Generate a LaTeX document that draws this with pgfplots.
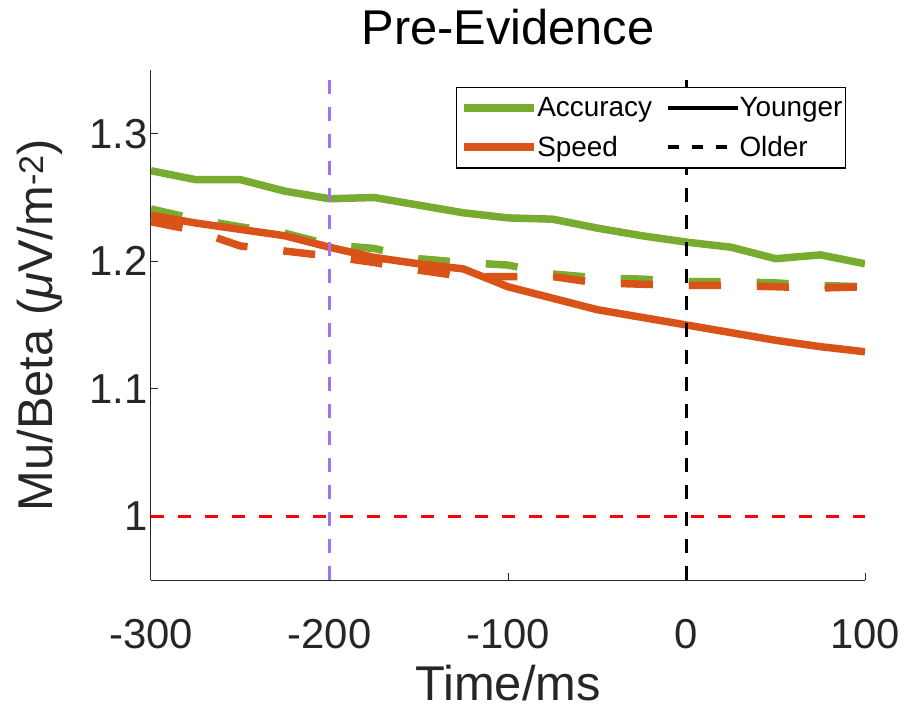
\documentclass[border=0pt]{standalone}
\usepackage{pgfplots}
\pgfplotsset{compat=1.18}
\usepackage{pgfplotstable}
\usepackage{fontspec}
\setmainfont{Liberation Sans}
\definecolor{accgreen}{rgb}{0.466,0.674,0.188}
\definecolor{spdorange}{rgb}{0.85,0.325,0.098}
\definecolor{vpurple}{rgb}{0.63,0.45,0.95}
\definecolor{axgray}{rgb}{0.15,0.15,0.15}
\pgfplotstableread{
t AccY SpdY AccO SpdO
-300 1.271 1.236 1.241 1.231
-275 1.264 1.230 1.233 1.224
-250 1.264 1.225 1.227 1.212
-225 1.255 1.220 1.222 1.208
-200 1.249 1.211 1.213 1.204
-175 1.250 1.203 1.210 1.199
-150 1.244 1.198 1.202 1.193
-125 1.238 1.194 1.199 1.188
-100 1.234 1.180 1.197 1.188
-75 1.233 1.171 1.190 1.188
-50 1.226 1.162 1.187 1.183
-25 1.220 1.156 1.186 1.182
0 1.215 1.150 1.184 1.181
25 1.211 1.144 1.184 1.181
50 1.202 1.138 1.183 1.180
75 1.205 1.133 1.181 1.179
100 1.198 1.129 1.180 1.180
}\datatable
\begin{document}
\begin{tikzpicture}
\begin{axis}[
  scale only axis,
  width=714bp, height=510bp,
  xmin=-300, xmax=100, ymin=0.95, ymax=1.35,
  axis x line*=bottom, axis y line*=left,
  axis line style={axgray, line width=1bp},
  tick style={axgray, line width=1bp},
  major tick length=7bp,
  tick align=inside,
  xtick={-300,-200,-100,0,100},
  xticklabels={{-300},{-200},{-100},{0},{100}},
  ytick={1,1.1,1.2,1.3},
  yticklabels={{1},{1.1},{1.2},{1.3}},
  ticklabel style={font=\fontsize{42}{42}\selectfont, text=axgray},
  xticklabel style={anchor=base, yshift=-68bp},
  title={Pre-Evidence},
  title style={at={(axis description cs:0.5,1.0392)}, anchor=base, font=\fontsize{49}{49}\selectfont},
  xlabel={Time/ms},
  xlabel style={at={(axis description cs:0.5,-0.2353)}, anchor=base, font=\fontsize{49}{49}\selectfont, text=axgray},
  ylabel={Mu/Beta ({\itshape μ}V/m\textsuperscript{-2})},
  ylabel style={at={(axis description cs:-0.1373,0.5)}, anchor=base, font=\fontsize{49}{49}\selectfont, text=axgray},
  legend columns=2,
  legend cell align=left,
  legend image code/.code={\draw[#1] (0bp,0bp) -- (70bp,0bp);},
  legend style={at={(axis description cs:0.9734,0.9667)}, anchor=north east,
    font=\fontsize{28}{28}\selectfont, draw=black, line width=1.2bp,
    inner xsep=3bp, inner ysep=8bp, row sep=14bp,
    nodes={inner xsep=0bp, inner ysep=2bp},
    /tikz/every even column/.append style={column sep=14bp}},
]
\addplot[accgreen, line width=7.5bp, line join=round, forget plot] table[x=t, y=AccY] {\datatable};
\addplot[accgreen, line width=7.5bp, dash pattern=on 32bp off 36bp, forget plot] table[x=t, y=AccO] {\datatable};
\addplot[spdorange, line width=7.5bp, line join=round, forget plot] table[x=t, y=SpdY] {\datatable};
\addplot[spdorange, line width=7.5bp, dash pattern=on 32bp off 36bp, forget plot] table[x=t, y=SpdO] {\datatable};
\addplot[vpurple, line width=3.5bp, dash pattern=on 14bp off 13bp, forget plot] coordinates {(-200,0.95) (-200,1.35)};
\addplot[black, line width=3.5bp, dash pattern=on 14bp off 13bp, forget plot] coordinates {(0,0.95) (0,1.35)};
\addplot[red, line width=3bp, dash pattern=on 13bp off 14bp, forget plot] coordinates {(-300,1) (100,1)};
\addlegendimage{accgreen, line width=7.5bp}
\addlegendentry{Accuracy}
\addlegendimage{black, line width=3.5bp}
\addlegendentry{Younger}
\addlegendimage{spdorange, line width=7.5bp}
\addlegendentry{Speed}
\addlegendimage{black, line width=3.5bp, dash pattern=on 11bp off 13bp}
\addlegendentry{Older}
\end{axis}
\pgfresetboundingbox
\path ([shift={(-151bp,-129bp)}]current axis.south west) rectangle ([shift={(41bp,70bp)}]current axis.north east);
\end{tikzpicture}
\end{document}
